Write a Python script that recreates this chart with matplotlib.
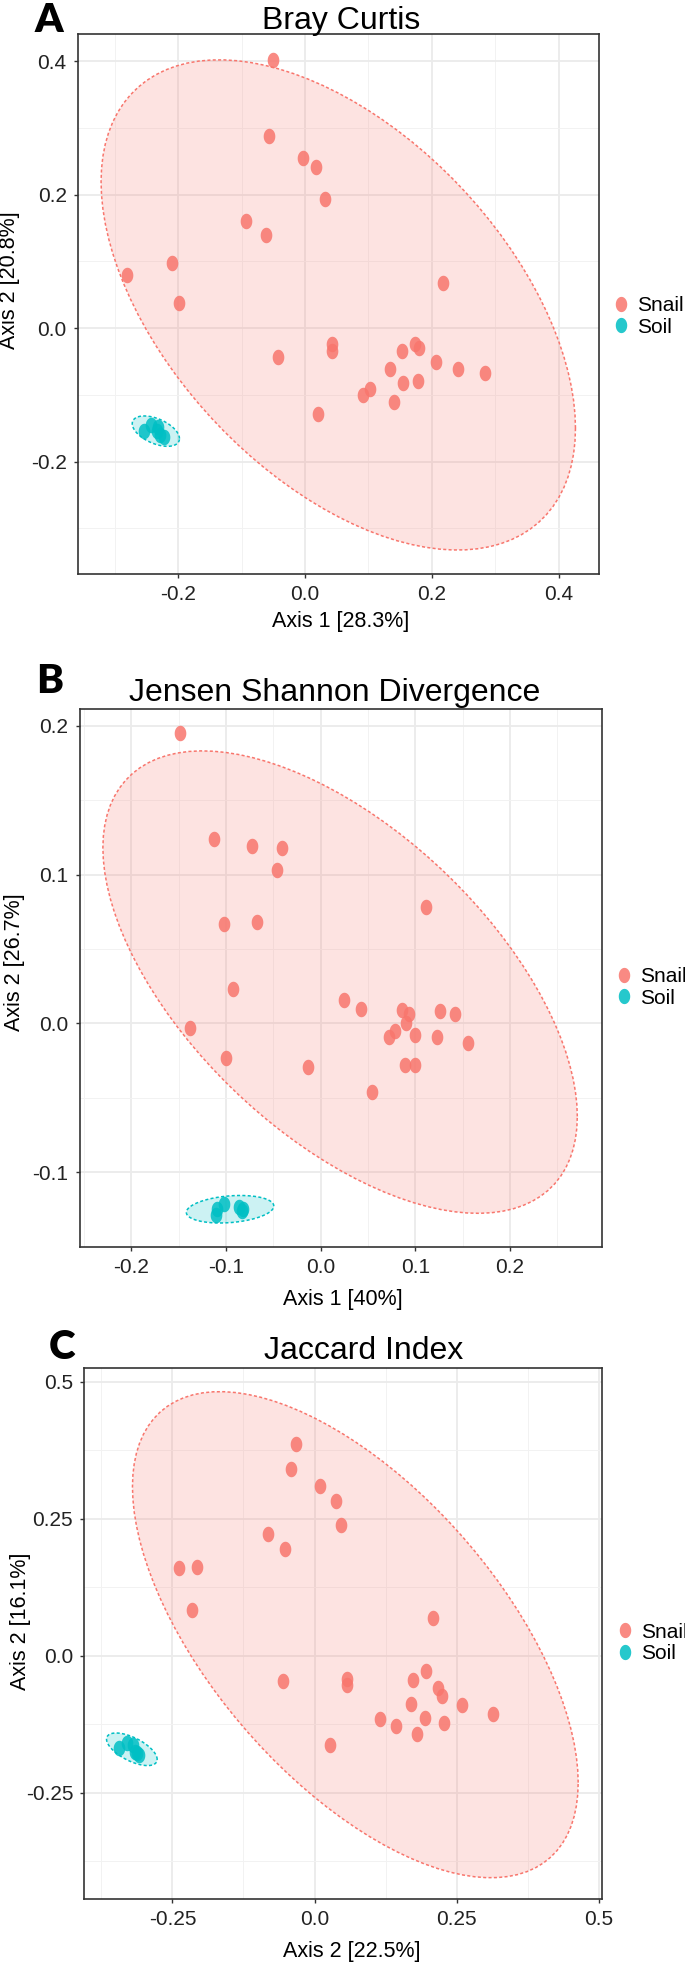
import numpy as np
import matplotlib
matplotlib.use('Agg')
import matplotlib.pyplot as plt
from matplotlib.path import Path
from matplotlib.lines import Line2D

plt.rcParams['font.family'] = ['Liberation Sans', 'DejaVu Sans']

# --- data (PCoA scores) ---
groups = ['Snail', 'Soil']
colors = {'Snail': '#F8766D', 'Soil': '#00BFC4'}

# A: Bray Curtis
a_snail_x = [-0.050, -0.056, -0.003, 0.018, 0.031, -0.093, -0.061, -0.209, -0.281, -0.198, 0.218,
             0.042, 0.042, -0.042, 0.153, 0.173, 0.180, 0.207, 0.134, 0.241, 0.284, 0.154, 0.178,
             0.103, 0.091, 0.140, 0.021]
a_snail_y = [0.402, 0.287, 0.254, 0.241, 0.193, 0.161, 0.140, 0.098, 0.079, 0.037, 0.067,
             -0.024, -0.035, -0.043, -0.034, -0.024, -0.030, -0.051, -0.061, -0.062, -0.067, -0.082, -0.079,
             -0.092, -0.101, -0.111, -0.129]
a_soil_x = [-0.253, -0.242, -0.231, -0.229, -0.222, -0.233]
a_soil_y = [-0.155, -0.145, -0.149, -0.160, -0.163, -0.155]

# B: Jensen Shannon Divergence
b_snail_x = [-0.149, -0.113, -0.073, -0.041, -0.046, 0.111, -0.102, -0.067, -0.093, 0.025, 0.043,
             0.086, 0.093, 0.090, 0.126, 0.142, -0.138, 0.079, 0.072, 0.100, 0.123, 0.156, -0.100,
             -0.013, 0.089, 0.100, 0.054]
b_snail_y = [0.195, 0.124, 0.119, 0.118, 0.103, 0.078, 0.067, 0.068, 0.023, 0.016, 0.010,
             0.009, 0.006, 0.000, 0.008, 0.006, -0.003, -0.005, -0.009, -0.008, -0.009, -0.013, -0.023,
             -0.029, -0.028, -0.028, -0.046]
b_soil_x = [-0.110, -0.111, -0.102, -0.086, -0.082, -0.083]
b_soil_y = [-0.125, -0.129, -0.121, -0.123, -0.125, -0.126]

# C: Jaccard Index
c_snail_x = [-0.032, -0.042, 0.010, 0.037, 0.047, -0.082, -0.052, -0.238, -0.207, -0.215, 0.209,
             -0.055, 0.058, 0.058, 0.196, 0.173, 0.218, 0.225, 0.169, 0.259, 0.314, 0.115, 0.194,
             0.227, 0.144, 0.181, 0.028]
c_snail_y = [0.386, 0.340, 0.310, 0.282, 0.239, 0.223, 0.195, 0.160, 0.162, 0.084, 0.069,
             -0.046, -0.043, -0.053, -0.027, -0.044, -0.058, -0.073, -0.088, -0.089, -0.106, -0.115, -0.114,
             -0.122, -0.129, -0.143, -0.163]
c_soil_x = [-0.344, -0.329, -0.319, -0.315, -0.309, -0.312]
c_soil_y = [-0.168, -0.159, -0.163, -0.175, -0.181, -0.178]

titles = ['Bray Curtis', 'Jensen Shannon Divergence', 'Jaccard Index']
letters = ['A', 'B', 'C']
xlabels = ['Axis 1 [28.3%]', 'Axis 1 [40%]', 'Axis 2 [22.5%]']
ylabels = ['Axis 2 [20.8%]', 'Axis 2 [26.7%]', 'Axis 2 [16.1%]']

a_xticks = [-0.2, 0.0, 0.2, 0.4]
a_xticklabels = ['-0.2', '0.0', '0.2', '0.4']
a_yticks = [-0.2, 0.0, 0.2, 0.4]
a_yticklabels = ['-0.2', '0.0', '0.2', '0.4']
b_xticks = [-0.2, -0.1, 0.0, 0.1, 0.2]
b_xticklabels = ['-0.2', '-0.1', '0.0', '0.1', '0.2']
b_yticks = [-0.1, 0.0, 0.1, 0.2]
b_yticklabels = ['-0.1', '0.0', '0.1', '0.2']
c_xticks = [-0.25, 0.0, 0.25, 0.5]
c_xticklabels = ['-0.25', '0.0', '0.25', '0.5']
c_yticks = [-0.25, 0.0, 0.25, 0.5]
c_yticklabels = ['-0.25', '0.0', '0.25', '0.5']


def norm_ellipse(xs, ys, level=0.95, segments=101):
    # same as ggplot stat_ellipse(type = "norm")
    x = np.column_stack([xs, ys])
    n = len(xs)
    center = x.mean(axis=0)
    shape = np.cov(x, rowvar=False)
    dfd = n - 1
    # qf(level, 2, dfd) has a closed form for 2 numerator df
    fq = dfd / 2.0 * ((1 - level) ** (-2.0 / dfd) - 1)
    radius = np.sqrt(2 * fq)
    t = np.linspace(0, 2 * np.pi, segments)
    circle = np.column_stack([np.cos(t), np.sin(t)])
    L = np.linalg.cholesky(shape)
    pts = center + radius * circle @ L.T
    return pts[:, 0], pts[:, 1]


# slightly tall oval marker like the reference
tt = np.linspace(0, 2 * np.pi, 40)
oval = Path(np.column_stack([0.75 * np.cos(tt), np.sin(tt)]), closed=True)

W, H = 685, 1963
fig = plt.figure(figsize=(W / 100, H / 100), dpi=100)

panels = [
    dict(box=(77.8, 599.4, 34.3, 574.0), xlim=(-0.358, 0.464), ylim=(-0.3685, 0.44),
         xt=a_xticks, xtl=a_xticklabels, yt=a_yticks, ytl=a_yticklabels, xminor=0.1, yminor=0.1,
         snail=(a_snail_x, a_snail_y), soil=(a_soil_x, a_soil_y),
         title_xy=(341, 28.5), letter_xy=(35, 32), xlab=(341, 622), ylab=(10, 280), leg=(613, 316.5)),
    dict(box=(79.5, 601.6, 709.0, 1246.7), xlim=(-0.2547, 0.2967), ylim=(-0.1491, 0.2112),
         xt=b_xticks, xtl=b_xticklabels, yt=b_yticks, ytl=b_yticklabels, xminor=0.05, yminor=0.05,
         snail=(b_snail_x, b_snail_y), soil=(b_soil_x, b_soil_y),
         title_xy=(335, 701), letter_xy=(36, 693), xlab=(343, 1300), ylab=(15, 962), leg=(616, 987.5)),
    dict(box=(84.3, 602.0, 1368.3, 1899.0), xlim=(-0.405, 0.5058), ylim=(-0.4438, 0.5244),
         xt=c_xticks, xtl=c_xticklabels, yt=c_yticks, ytl=c_yticklabels, xminor=0.125, yminor=0.125,
         snail=(c_snail_x, c_snail_y), soil=(c_soil_x, c_soil_y),
         title_xy=(364, 1359), letter_xy=(49, 1359), xlab=(352, 1951), ylab=(21, 1621), leg=(617, 1643)),
]

for i, p in enumerate(panels):
    l, r, t, b = p['box']
    ax = fig.add_axes([l / W, 1 - b / H, (r - l) / W, (b - t) / H])

    for g, (gx, gy) in zip(groups, [p['snail'], p['soil']]):
        ex, ey = norm_ellipse(gx, gy)
        ax.fill(ex, ey, color=colors[g], alpha=0.2, lw=0, zorder=2)
        ax.plot(ex, ey, color=colors[g], lw=1.1, ls=(0, (2, 1.5)), zorder=3)
        ax.scatter(gx, gy, s=125, marker=oval, color=colors[g], alpha=0.85, lw=0, zorder=4)

    ax.set_xlim(p['xlim'])
    ax.set_ylim(p['ylim'])
    ax.set_xticks(p['xt'])
    ax.set_xticklabels(p['xtl'])
    ax.set_yticks(p['yt'])
    ax.set_yticklabels(p['ytl'])
    xm = np.arange(p['xt'][0] - p['xminor'], p['xlim'][1], 2 * p['xminor'])
    ym = np.arange(p['yt'][0] - p['yminor'], p['ylim'][1], 2 * p['yminor'])
    ax.set_xticks(xm, minor=True)
    ax.set_yticks(ym, minor=True)
    ax.tick_params(which='minor', length=0)
    ax.tick_params(which='major', length=3, width=1, color='#333333', labelsize=15,
                   labelcolor='#222222', pad=5)
    ax.grid(which='major', color='#EBEBEB', lw=1.3, zorder=0)
    ax.grid(which='minor', color='#F2F2F2', lw=0.7, zorder=0)
    ax.set_axisbelow(True)
    for s in ax.spines.values():
        s.set_color('#333333')
        s.set_linewidth(1.2)

    ax.set_xlabel(xlabels[i], fontsize=15.5, va='center')
    ax.xaxis.set_label_coords((p['xlab'][0] - l) / (r - l), (b - p['xlab'][1]) / (b - t))
    ax.set_ylabel(ylabels[i], fontsize=15.5, va='center')
    ax.yaxis.set_label_coords((p['ylab'][0] - l) / (r - l), (b - p['ylab'][1]) / (b - t))

    fig.text(p['title_xy'][0] / W, 1 - p['title_xy'][1] / H, titles[i], fontsize=23,
             ha='center', va='baseline')
    fig.text(p['letter_xy'][0] / W, 1 - p['letter_xy'][1] / H, letters[i], fontsize=29,
             fontfamily='Lato', fontweight='heavy', ha='left', va='baseline')

    handles = [Line2D([], [], ls='none', marker=oval, markersize=11, color=colors[g], alpha=0.85,
                      markeredgewidth=0) for g in groups]
    ax.legend(handles, groups, loc='center left', frameon=False, fontsize=15,
              bbox_to_anchor=(p['leg'][0] / W, 1 - p['leg'][1] / H), bbox_transform=fig.transFigure,
              borderpad=0, borderaxespad=0, handlelength=0.8, handletextpad=0.35, labelspacing=0.12)

plt.savefig('out.png', dpi=100)
